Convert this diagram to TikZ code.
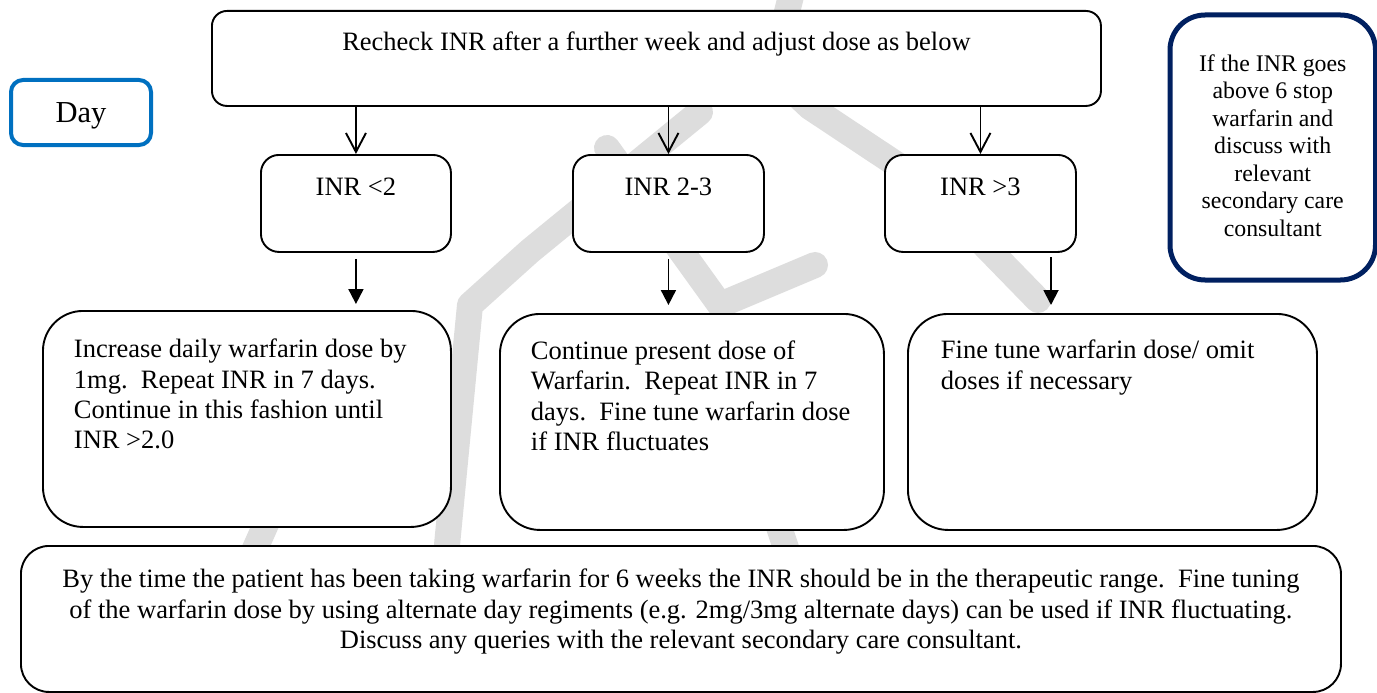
\documentclass[tikz,border=0pt]{standalone}
\usepackage{fontspec}
\setmainfont{Liberation Serif}
\usetikzlibrary{arrows.meta,calc}
\definecolor{dayblue}{HTML}{0070C0}
\definecolor{navyblue}{HTML}{002060}
\definecolor{wmgray}{HTML}{DDDDDD}
\newcommand{\boxc}[5]{\begin{minipage}[t][#2][t]{#1}#4\rule{0pt}{#3}#5\end{minipage}}
\newcommand{\bodyfont}{\fontsize{26.5pt}{30.4pt}\selectfont}
\begin{document}
\begin{tikzpicture}[x=1pt,y=-1pt,
  wm/.style={draw=wmgray, line width=26pt, line cap=round, line join=round},
  bx/.style={draw=black, line width=1.9pt, fill=white, rounded corners=#1, inner sep=0pt, anchor=north west},
  bx/.default=18pt,
  openarr/.style={line width=1.9pt, -{Straight Barb[length=19pt,width=20pt,line width=1.9pt]}},
  fillarr/.style={line width=1.9pt, -{Triangle[length=15pt,width=15pt]}}]
\clip (0,0) rectangle (1377,693);
\fill[white] (0,0) rectangle (1377,693);
% watermark
\draw[wm] (795,-20) -- (780,40);
\draw[wm] (760,60) -- (810,107) -- (923,182) -- (1038,300);
\draw[wm] (700,112) -- (530,251) -- (470,305) -- (447,545);
\draw[wm] (607,148) -- (720,305) -- (815,265);
\draw[wm] (290,470) -- (250,560);
\draw[wm] (760,470) -- (790,560);
% boxes
\node[bx=15pt] (top) at (211,10) {\boxc{889pt}{95pt}{40pt}{\centering\bodyfont}{Recheck INR after a further week and adjust dose as below}};
\node[bx=12pt, draw=dayblue, line width=4pt] (day) at (9,78) {\boxc{140pt}{65pt}{42pt}{\centering\fontsize{30.5pt}{34pt}\selectfont}{Day}};
\node[bx=35pt, draw=navyblue, line width=5pt] (stop) at (1167.5,12.5) {\boxc{205.5pt}{265pt}{56pt}{\centering\fontsize{23.8pt}{27.6pt}\selectfont}{If the INR goes\\above 6 stop\\warfarin and\\discuss with\\relevant\\secondary care\\consultant}};
\node[bx] (inr1) at (260,154) {\boxc{190pt}{97pt}{41pt}{\centering\bodyfont}{INR <2}};
\node[bx] (inr2) at (572,154) {\boxc{191pt}{97pt}{41pt}{\centering\bodyfont}{INR 2-3}};
\node[bx] (inr3) at (884,154) {\boxc{191pt}{97pt}{41pt}{\centering\bodyfont}{INR >3}};
\node[bx=40pt] (b1) at (42,310) {\boxc{408pt}{216pt}{46.7pt}{\raggedright\leftskip=31pt\relax\bodyfont}{Increase daily warfarin dose by\\1mg.\ \ Repeat INR in 7 days.\\Continue in this fashion until\\INR >2.0}};
\node[bx=40pt] (b2) at (499,313) {\boxc{384pt}{216pt}{45.3pt}{\raggedright\leftskip=31pt\relax\bodyfont}{Continue present dose of\\Warfarin.\ \ Repeat INR in 7\\days.\ \ Fine tune warfarin dose\\if INR fluctuates}};
\node[bx=40pt] (b3) at (907,313) {\boxc{409pt}{216pt}{45pt}{\raggedright\leftskip=33pt\relax\bodyfont}{Fine tune warfarin dose/ omit\\doses if necessary}};
\node[bx=28pt] (note) at (20,545) {\boxc{1320pt}{146pt}{42pt}{\centering\bodyfont}{By the time the patient has been taking warfarin for 6 weeks the INR should be in the therapeutic range.\ \ Fine tuning\\of the warfarin dose by using alternate day regiments (e.g. 2mg/3mg alternate days) can be used if INR fluctuating.\\Discuss any queries with the relevant secondary care consultant.}};
% arrows
\draw[openarr] (inr1.north |- top.south) -- (inr1.north);
\draw[openarr] (inr2.north |- top.south) -- (inr2.north);
\draw[openarr] (inr3.north |- top.south) -- (inr3.north);
\coordinate (c3) at (1051,251);
\draw[fillarr, shorten <=6pt, shorten >=6pt] (inr1.south) -- (inr1.south |- b1.north);
\draw[fillarr, shorten <=6pt, shorten >=8pt] (inr2.south) -- (inr2.south |- b2.north);
\draw[fillarr, shorten <=6pt, shorten >=8pt] (c3) -- (c3 |- b3.north);
\end{tikzpicture}
\end{document}
